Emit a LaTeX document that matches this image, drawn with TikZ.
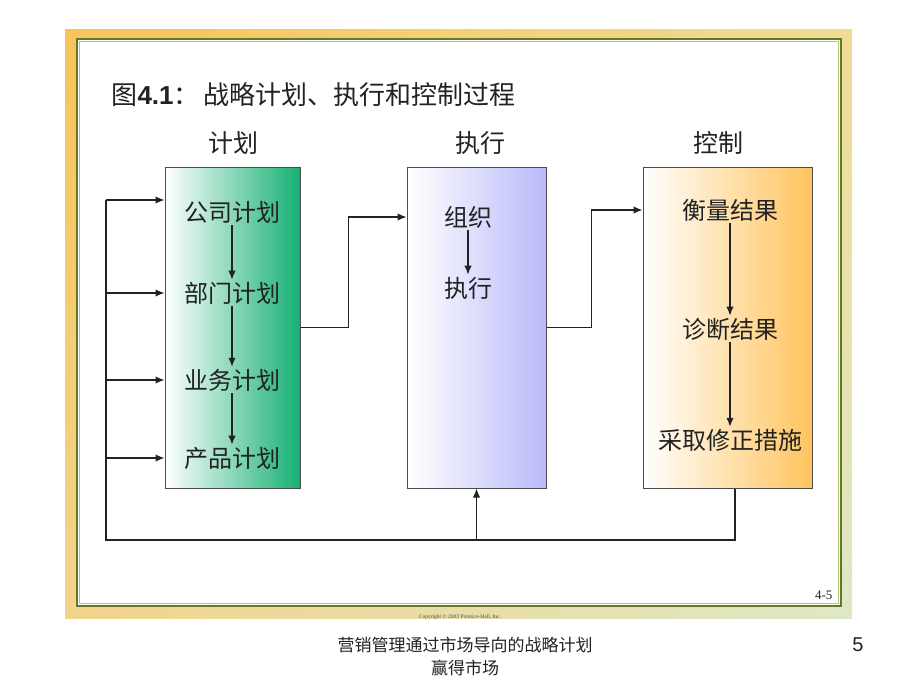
\documentclass[tikz,border=0pt]{standalone}
\usepackage{fontspec}
\setmainfont{Liberation Serif}
\newfontfamily\cjk{Noto Sans CJK SC}
\newfontfamily\arial{Liberation Sans}
\usepackage{tikz}
\usetikzlibrary{arrows.meta}
\usetikzlibrary{shadings}

\definecolor{bandA}{RGB}{247,196,88}
\definecolor{bandB}{RGB}{240,220,150}
\definecolor{bandC}{RGB}{242,212,140}
\definecolor{bandD}{RGB}{222,232,198}
\definecolor{framegreen}{RGB}{98,122,36}
\definecolor{framelight}{RGB}{176,198,120}
\definecolor{plangreen}{RGB}{22,176,116}
\definecolor{execblue}{RGB}{186,186,250}
\definecolor{ctrlorange}{RGB}{255,196,94}
\definecolor{ink}{RGB}{34,34,34}

\begin{document}
\begin{tikzpicture}[x=1pt, y=-1pt,
  stage/.style={draw=black!70, line width=1pt, minimum height=321pt, inner sep=0pt},
  item/.style={anchor=center, inner sep=2pt, text=ink, font=\cjk\fontsize{24}{28}\selectfont},
  head/.style={anchor=center, text=ink, font=\cjk\fontsize{25}{30}\selectfont},
  link/.style={draw=ink, line width=1.4pt},
  arr/.style={link, -{Latex[length=9pt, width=7.5pt]}}]
\useasboundingbox (0,0) rectangle (920,690);

% slide frame
\shade[upper left=bandA, upper right=bandB, lower left=bandC, lower right=bandD] (65,30) rectangle (852,618);
\fill[white] (77,39) rectangle (841,606);
\draw[line width=2.5pt, framegreen] (77,39) rectangle (841,606);
\draw[line width=0.8pt, framelight] (79.5,41.5) rectangle (838.5,603.5);

\node[anchor=west, text=ink] (title) at (108,95) {\cjk\fontsize{26}{30}\selectfont 图{\arial\bfseries 4.1}：\hspace{4pt}战略计划、执行和控制过程};

\node[head] (hplan) at (233,143) {计划};
\node[head] (hexec) at (480,143) {执行};
\node[head] (hctrl) at (718,143) {控制};

\node[stage, minimum width=135pt, left color=white, right color=plangreen] (plan) at (232.5,327.5) {};
\node[stage, minimum width=139pt, left color=white, right color=execblue] (exec) at (476.5,327.5) {};
\node[stage, minimum width=169pt, left color=white, right color=ctrlorange] (ctrl) at (727.5,327.5) {};

\node[item] (corp) at (232,212) {公司计划};
\node[item] (dept) at (232,293) {部门计划};
\node[item] (biz) at (232,380) {业务计划};
\node[item] (prod) at (232,458) {产品计划};

\node[item] (org) at (468,217) {组织};
\node[item] (run) at (468,288) {执行};

\node[item] (measure) at (730,210) {衡量结果};
\node[item] (diag) at (730,329) {诊断结果};
\node[item] (fix) at (730,440) {采取修正措施};

\draw[arr] (corp) -- (dept);
\draw[arr] (dept) -- (biz);
\draw[arr] (biz) -- (prod);
\draw[arr] (org) -- (run);
\draw[arr] (measure) -- (diag);
\draw[arr] (diag) -- (fix);

\draw[arr] (plan.east) -- ++(48,0) |- (exec.west |- org);
\draw[arr] (exec.east) -- ++(45,0) |- (ctrl.west |- measure);

% feedback loop
\coordinate (loopr) at (735,540);
\coordinate (loopl) at (106,540);
\coordinate (looptop) at (106,200);
\draw[link] (ctrl.south -| loopr) -- (loopr) -- (loopl) -- (looptop);
\draw[arr] (looptop) -- (plan.west |- looptop);
\draw[arr] (looptop |- dept) -- (plan.west |- dept);
\draw[arr] (looptop |- biz) -- (plan.west |- biz);
\draw[arr] (looptop |- prod) -- (plan.west |- prod);
\draw[arr] (exec.south |- loopl) -- (exec.south);

\node[anchor=east, text=ink, font=\fontsize{13}{15}\selectfont] (page) at (836,595) {4-5};
\node[anchor=center, text=black!70, font=\fontsize{5.5}{6}\selectfont] (copy) at (460,617) {Copyright © 2003 Prentice-Hall, Inc.};

\node[anchor=center, align=center, text=ink, font=\cjk\fontsize{17}{23}\selectfont] (foot) at (465,656) {营销管理通过市场导向的战略计划\\赢得市场};
\node[anchor=center, text=ink, font=\arial\fontsize{20}{22}\selectfont] (num) at (858,645) {5};
\end{tikzpicture}
\end{document}
